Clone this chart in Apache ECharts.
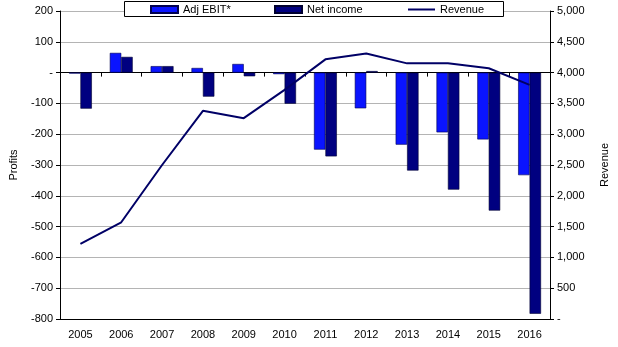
<!DOCTYPE html>
<html>
<head>
<meta charset="utf-8">
<script src="https://cdn.jsdelivr.net/npm/echarts@6/dist/echarts.min.js"></script>
<style>
  html, body { margin: 0; padding: 0; background: #fff; }
  #chart { width: 618px; height: 347px; }
</style>
</head>
<body>
<div id="chart"></div>
<script>
// Yearly profits (left axis) and revenue (right axis)
const years = ['2005', '2006', '2007', '2008', '2009', '2010', '2011', '2012', '2013', '2014', '2015', '2016'];
const adjEbit = [-3, 64, 21, 15, 28, -5, -250, -116, -234, -194, -217, -333];
const netIncome = [-117, 51, 21, -78, -12, -101, -272, 5, -318, -380, -448, -783];
const revenue = [1220, 1570, 2500, 3380, 3260, 3720, 4215, 4310, 4150, 4150, 4070, 3800];

const FONT = 'Liberation Sans, Arial, sans-serif';
const txt = { fontFamily: FONT, fontSize: 11, color: '#000' };

function fmtLeft(v) { return v === 0 ? '-' : String(v); }
function fmtRight(v) { return v === 0 ? '-' : v.toLocaleString('en-US'); }

const chart = echarts.init(document.getElementById('chart'));
chart.setOption({
  animation: false,
  backgroundColor: '#fff',
  grid: { left: 55, right: 61, top: 11, bottom: 28, containLabel: false },
  graphic: [{
    type: 'rect',
    shape: { x: 124.5, y: 1.5, width: 379, height: 15 },
    style: { fill: '#fff', stroke: '#000', lineWidth: 1 },
    z: 10
  }],
  legend: [
    { data: [{ name: 'Adj EBIT*', icon: 'rect' }], left: 150, top: 2, itemWidth: 27, itemHeight: 7, textStyle: txt, z: 20, padding: [2, 0] },
    { data: [{ name: 'Net income', icon: 'rect' }], left: 274, top: 2, itemWidth: 27, itemHeight: 7, textStyle: txt, z: 20, padding: [2, 0] },
    { data: ['Revenue'], left: 407, top: 2, itemWidth: 27, itemHeight: 7, textStyle: txt, z: 20, padding: [2, 0],
      itemStyle: { opacity: 0 } }
  ],
  xAxis: [
    {
      type: 'category', data: years, position: 'bottom',
      axisLine: { onZero: false, lineStyle: { color: '#000', width: 1 } },
      axisTick: { show: false },
      axisLabel: { ...txt, margin: 10 },
      splitLine: { show: false }
    },
    {
      type: 'category', data: years, position: 'bottom',
      axisLine: { onZero: true, lineStyle: { color: '#000', width: 1 } },
      axisTick: { show: true, length: 4, lineStyle: { color: '#000' } },
      axisLabel: { show: false },
      splitLine: { show: false }
    }
  ],
  yAxis: [
    {
      type: 'value', min: -800, max: 200, interval: 100,
      name: 'Profits', nameLocation: 'middle', nameGap: 41, nameRotate: 90,
      nameTextStyle: txt,
      axisLine: { show: true, lineStyle: { color: '#000' } },
      axisTick: { show: true, length: 4, lineStyle: { color: '#000' } },
      axisLabel: { ...txt, formatter: fmtLeft, margin: 7 },
      splitLine: { show: true, lineStyle: { color: '#b4b4b4', width: 1 } }
    },
    {
      type: 'value', min: 0, max: 5000, interval: 500,
      name: 'Revenue', nameLocation: 'middle', nameGap: 49, nameRotate: 90,
      nameTextStyle: txt,
      axisLine: { show: true, lineStyle: { color: '#000' } },
      axisTick: { show: true, length: 4, lineStyle: { color: '#000' } },
      axisLabel: { ...txt, formatter: fmtRight, margin: 7 },
      splitLine: { show: false }
    }
  ],
  series: [
    {
      name: 'Adj EBIT*', type: 'bar', data: adjEbit, xAxisIndex: 0, yAxisIndex: 0,
      barGap: '0%', barCategoryGap: '44%',
      itemStyle: { color: '#0a14ff', borderColor: '#000050', borderWidth: 0.6 }
    },
    {
      name: 'Net income', type: 'bar', data: netIncome, xAxisIndex: 0, yAxisIndex: 0,
      barGap: '0%', barCategoryGap: '44%',
      itemStyle: { color: '#000080', borderColor: '#000030', borderWidth: 0.6 }
    },
    {
      name: 'Revenue', type: 'line', data: revenue, xAxisIndex: 0, yAxisIndex: 1,
      showSymbol: false, symbol: 'none',
      lineStyle: { color: '#000066', width: 2 },
      itemStyle: { color: '#000066' },
      z: 5
    }
  ]
});
</script>
</body>
</html>
